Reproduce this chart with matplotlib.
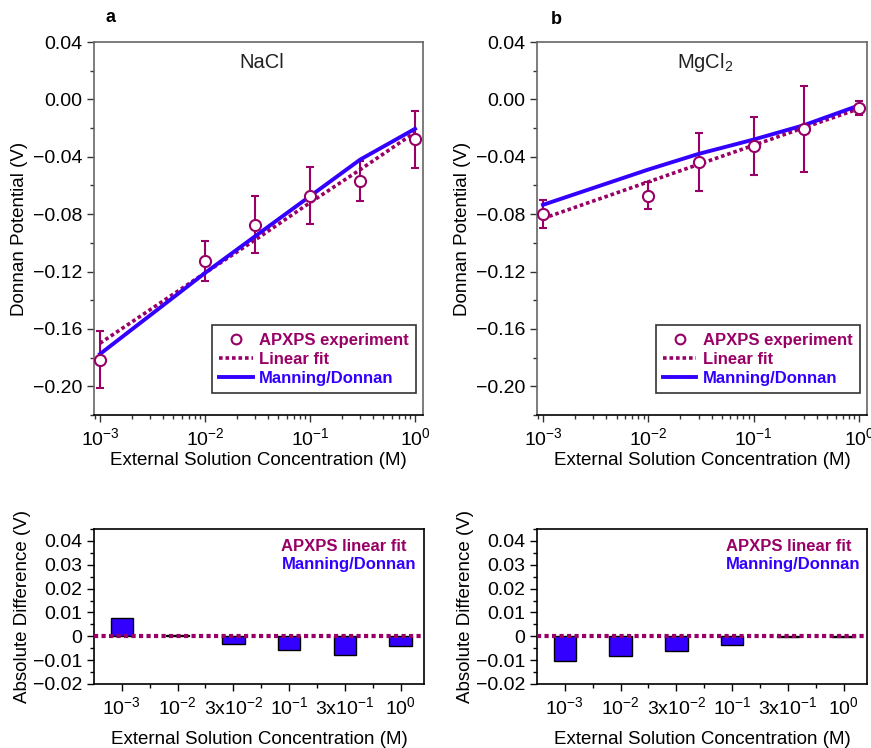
import numpy as np
import matplotlib
matplotlib.use("Agg")
import matplotlib.pyplot as plt
from matplotlib.ticker import MultipleLocator, FuncFormatter, LogLocator, FixedLocator

plt.rcParams['font.family'] = ['Liberation Sans', 'DejaVu Sans']
plt.rcParams['mathtext.fontset'] = 'custom'
plt.rcParams['mathtext.rm'] = 'Liberation Sans'
plt.rcParams['mathtext.it'] = 'Liberation Sans:italic'
plt.rcParams['mathtext.bf'] = 'Liberation Sans:bold'

PURPLE = '#990066'
BLUE = '#3300ff'

# concentrations (M)
conc = [1e-3, 1e-2, 3e-2, 1e-1, 3e-1, 1.0]

# NaCl
nacl_exp = [-0.1815, -0.1129, -0.0873, -0.0670, -0.0570, -0.0279]
nacl_err = [0.020, 0.014, 0.020, 0.020, 0.014, 0.020]
nacl_fit = [-0.170, -0.121, -0.098, -0.072, -0.049, -0.023]
nacl_manning = [-0.1775, -0.121, -0.0954, -0.0675, -0.042, -0.0205]
nacl_diff = [0.0076, 0.0005, -0.0033, -0.0056, -0.0077, -0.0042]

# MgCl2
mg_exp = [-0.0798, -0.0670, -0.0437, -0.0326, -0.0205, -0.0058]
mg_err = [0.010, 0.0095, 0.020, 0.020, 0.030, 0.005]
mg_fit = [-0.083, -0.0575, -0.0453, -0.032, -0.0197, -0.0065]
mg_manning = [-0.0735, -0.0489, -0.038, -0.028, -0.018, -0.0042]
mg_diff = [-0.0103, -0.0083, -0.0061, -0.0035, -0.0003, -0.0003]

cat_labels = ['10$^{-3}$', '10$^{-2}$', '3x10$^{-2}$', '10$^{-1}$', '3x10$^{-1}$', '10$^{0}$']

W, H = 871, 748
fig = plt.figure(figsize=(W / 100, H / 100), dpi=100)


def rect(x0, y0, x1, y1):
    return [x0 / W, 1 - y1 / H, (x1 - x0) / W, (y1 - y0) / H]


def fmt_top(v, pos):
    v = round(v, 4)
    if abs(v) < 1e-9:
        return '0.00'
    return ('%.2f' % v).replace('-', '\u2212')


def fmt_bot(v, pos):
    if abs(v) < 1e-9:
        return '0'
    return ('%.2f' % v).replace('-', '\u2212')


def top_panel(r, exp, err, fit, man, title, lx):
    ax = fig.add_axes(r)
    ax.set_xscale('log')
    ax.errorbar(conc, exp, yerr=err, fmt='none', ecolor=PURPLE, elinewidth=1.5,
                capsize=3, capthick=1.5, zorder=2)
    ax.plot(conc, fit, linestyle=(0, (1, 0.8)), color=PURPLE, lw=2.6, zorder=3,
            label='Linear fit')
    ax.plot(conc, man, color=BLUE, lw=2.8, zorder=4, label='Manning/Donnan')
    ax.plot(conc, exp, 'o', mfc='white', mec=PURPLE, mew=1.5, ms=8, zorder=5,
            label='APXPS experiment', linestyle='none')
    ax.set_xlim(10 ** -3.057, 10 ** 0.076)
    ax.set_ylim(-0.22, 0.04)
    ax.yaxis.set_major_locator(MultipleLocator(0.04))
    ax.yaxis.set_minor_locator(MultipleLocator(0.02))
    ax.yaxis.set_major_formatter(FuncFormatter(fmt_top))
    ax.xaxis.set_major_locator(LogLocator(base=10, numticks=10))
    ax.xaxis.set_minor_locator(LogLocator(base=10, subs=np.arange(2, 10), numticks=20))
    ax.tick_params(which='both', direction='out', labelsize=14, color='#333333')
    ax.tick_params(which='major', length=5, width=1)
    ax.tick_params(which='minor', length=3, width=1)
    for s in ax.spines.values():
        s.set_color('#666666')
        s.set_linewidth(1.2)
    ax.spines['bottom'].set_color('black')
    ax.set_ylabel('Donnan Potential (V)', fontsize=13.5)
    ax.yaxis.set_label_coords(lx, 0.5)
    ax.set_xlabel('External Solution Concentration (M)', fontsize=13.5)
    ax.xaxis.set_label_coords(0.5, -0.1)
    ax.text(0.51, 0.945, title, transform=ax.transAxes, fontsize=14.5,
            ha='center', va='center', color='#222222')
    h, l = ax.get_legend_handles_labels()
    order = [2, 0, 1]
    leg = ax.legend([h[i] for i in order], [l[i] for i in order],
                    loc='lower right', bbox_to_anchor=(0.98, 0.058),
                    prop={'weight': 'bold', 'size': 12}, frameon=True,
                    fancybox=False, borderpad=0.45, labelspacing=0.25,
                    handlelength=2.0, handletextpad=0.4, borderaxespad=0)
    leg.get_frame().set_edgecolor('black')
    leg.get_frame().set_linewidth(1.2)
    leg.legend_handles[0].set_markersize(7)
    for t, c in zip(leg.get_texts(), [PURPLE, PURPLE, BLUE]):
        t.set_color(c)
    return ax


def bottom_panel(r, diff, lx, tx):
    ax = fig.add_axes(r)
    pos = np.arange(len(diff))
    ax.bar(pos, diff, width=0.4, color=BLUE, edgecolor='black', lw=1.0, zorder=2)
    ax.axhline(0, color=PURPLE, linestyle=(0, (1, 0.8)), lw=3, zorder=3)
    ax.set_xlim(-0.5, 5.42)
    ax.set_ylim(-0.02, 0.045)
    ax.set_xticks(pos)
    ax.set_xticklabels(cat_labels)
    ax.xaxis.set_minor_locator(FixedLocator(pos[:-1] + 0.5))
    ax.yaxis.set_major_locator(FixedLocator([-0.02, -0.01, 0, 0.01, 0.02, 0.03, 0.04]))
    ax.yaxis.set_minor_locator(MultipleLocator(0.005))
    ax.yaxis.set_major_formatter(FuncFormatter(fmt_bot))
    ax.tick_params(which='both', direction='out', labelsize=14)
    ax.tick_params(which='major', length=5, width=1)
    ax.tick_params(which='minor', length=3, width=1)
    for s in ax.spines.values():
        s.set_linewidth(1.2)
    ax.set_ylabel('Absolute Difference (V)', fontsize=13.5)
    ax.yaxis.set_label_coords(lx, 0.5)
    ax.set_xlabel('External Solution Concentration (M)', fontsize=13.5)
    ax.xaxis.set_label_coords(0.5, -0.3)
    ax.text(tx, 0.89, 'APXPS linear fit', transform=ax.transAxes, color=PURPLE,
            fontsize=12, fontweight='bold', va='center', ha='left')
    ax.text(tx, 0.768, 'Manning/Donnan', transform=ax.transAxes, color=BLUE,
            fontsize=12, fontweight='bold', va='center', ha='left')
    return ax


top_panel(rect(94, 42, 423, 415), nacl_exp, nacl_err, nacl_fit, nacl_manning, 'NaCl', -0.2)
top_panel(rect(537, 42, 867, 415), mg_exp, mg_err, mg_fit, mg_manning, 'MgCl$_2$', -0.2)
bottom_panel(rect(94, 529, 424, 684), nacl_diff, -0.19, 0.568)
bottom_panel(rect(537, 529, 867, 684), mg_diff, -0.19, 0.573)

fig.text(110 / W, 1 - 18 / H, 'a', fontsize=13, fontweight='bold',
         family=['Liberation Sans Narrow', 'Liberation Sans'], ha='center', va='center')
fig.text(556 / W, 1 - 20 / H, 'b', fontsize=13, fontweight='bold',
         family=['Liberation Sans Narrow', 'Liberation Sans'], ha='center', va='center')

fig.savefig('out.png', dpi=100)
